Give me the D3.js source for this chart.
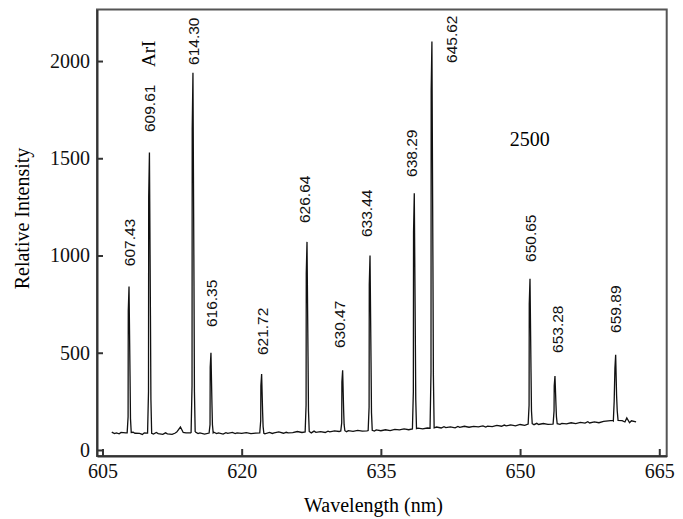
<!DOCTYPE html>
<html>

<head>
  <meta charset='utf-8'>
  <script src="https://cdn.jsdelivr.net/npm/d3@7/dist/d3.min.js"></script>
  <style>
    body {
      margin: 0;
      background-color: #fff;
    }

    .axis path,
    .axis line {
      stroke: #333;
      stroke-width: 2px;
    }
  </style>
</head>

<body>
  <div id='chart'></div>
  <script>
    // axis ticks
    var xTicks = [605, 620, 635, 650, 665];
    var yTicks = [0, 500, 1000, 1500, 2000];

    // background trace between the lines, [wavelength nm, intensity]
    var baseline = [
      [606.0, 92], [606.3, 84], [606.5, 88], [606.8, 83], [607.0, 90], [607.5, 88], [608.0, 84], [608.3, 91], [608.5, 86], [609.0, 85], [609.3, 80], [609.5, 88],
      [610.0, 87], [610.5, 82], [610.8, 90], [611.0, 84], [611.5, 80], [611.8, 88], [612.0, 83], [612.5, 80], [612.8, 86], [613.0, 92], [613.4, 118],
      [613.7, 90], [614.0, 88], [614.5, 88], [615.0, 93], [615.3, 84], [615.5, 88], [616.0, 82], [616.5, 86], [617.0, 91], [617.3, 84],
      [617.5, 88], [618.0, 82], [618.3, 89], [618.5, 85], [619.0, 90], [619.3, 84], [619.5, 88], [620.0, 85], [620.5, 89], [621.0, 84],
      [621.5, 87], [622.0, 89], [622.5, 83], [623.0, 90], [623.3, 85], [623.5, 88], [624.0, 93], [624.5, 86], [624.8, 91], [625.0, 88],
      [625.5, 89], [626.0, 95], [626.5, 90], [627.0, 96], [627.5, 88], [627.8, 97], [628.0, 91], [628.5, 94], [629.0, 90], [629.3, 97],
      [629.5, 93], [630.0, 98], [630.5, 95], [631.0, 101], [631.3, 94], [631.5, 99], [632.0, 96], [632.5, 101], [633.0, 97],
      [633.5, 98], [634.0, 102], [634.3, 97], [634.5, 103], [635.0, 99], [635.5, 104], [636.0, 100], [636.5, 106], [637.0, 103],
      [637.5, 108], [638.0, 104], [638.5, 107], [639.0, 112], [639.5, 109], [640.0, 113], [640.5, 111], [641.0, 118],
      [641.5, 113], [641.8, 120], [642.0, 115], [642.5, 119], [643.0, 114], [643.3, 121], [643.5, 116], [644.0, 122], [644.5, 117], [645.0, 121],
      [645.5, 119], [646.0, 124], [646.3, 118], [646.5, 123], [647.0, 120], [647.5, 126], [648.0, 122], [648.3, 128], [648.5, 124], [649.0, 129],
      [649.5, 124], [650.0, 131], [650.5, 127], [651.0, 133], [651.5, 130], [651.8, 137], [652.0, 131], [652.5, 136], [653.0, 132],
      [653.5, 133], [654.0, 138], [654.3, 132], [654.5, 137], [655.0, 134], [655.5, 140], [656.0, 136], [656.5, 142], [657.0, 138],
      [657.3, 145], [657.5, 139], [658.0, 144], [658.5, 140], [659.0, 147], [659.5, 150], [660.0, 152], [660.5, 148], [661.0, 151],
      [661.3, 144], [661.5, 165], [661.8, 140], [662.0, 150], [662.5, 145]
    ];

    // emission line profiles, [wavelength nm, intensity]
    var peaks = [
      [[607.66, 88], [607.76, 170], [607.78, 715], [607.86, 840], [607.97, 380], [608.02, 160], [608.1, 90]],
      [[609.86, 87], [609.96, 300], [609.98, 1300], [610.06, 1530], [610.17, 690], [610.22, 260], [610.3, 86]],
      [[614.55, 90], [614.65, 330], [614.67, 1650], [614.75, 1940], [614.86, 870], [614.91, 300], [614.99, 92]],
      [[616.49, 87], [616.59, 130], [616.61, 425], [616.69, 500], [616.8, 230], [616.85, 130], [616.93, 88]],
      [[621.95, 88], [622.05, 150], [622.07, 330], [622.15, 390], [622.26, 190], [622.31, 120], [622.39, 86]],
      [[626.84, 93], [626.94, 230], [626.96, 910], [627.04, 1070], [627.15, 480], [627.2, 200], [627.28, 95]],
      [[630.68, 98], [630.78, 140], [630.8, 350], [630.88, 410], [630.99, 200], [631.04, 130], [631.12, 99]],
      [[633.63, 100], [633.73, 220], [633.75, 850], [633.83, 1000], [633.94, 450], [633.99, 190], [634.07, 101]],
      [[638.4, 108], [638.5, 300], [638.52, 1120], [638.6, 1320], [638.71, 600], [638.76, 260], [638.84, 110]],
      [[640.3, 112], [640.4, 400], [640.42, 1850], [640.5, 2100], [640.61, 950], [640.66, 380], [640.74, 114]],
      [[650.87, 133], [650.97, 230], [650.99, 750], [651.07, 880], [651.18, 400], [651.23, 200], [651.31, 135]],
      [[653.56, 134], [653.66, 200], [653.68, 330], [653.76, 380], [653.87, 230], [653.92, 170], [654.0, 135]],
      [[660.05, 150], [660.14, 250], [660.22, 420], [660.3, 490], [660.4, 280], [660.47, 200], [660.56, 152]]
    ];

    // line labels: text, centre wavelength, intensity at the lower end of the text
    var labelText = ['607.43', '609.61', '614.30', '616.35', '621.72', '626.64', '630.47',
      '633.44', '638.29', '645.62', '650.65', '653.28', '659.89'];
    var labelNm = [607.96, 610.12, 614.86, 616.80, 622.29, 626.81, 630.58,
      633.49, 638.34, 642.65, 651.16, 654.07, 660.28];
    var labelAt = [945, 1635, 1980, 632, 488, 1167, 524, 1095, 1404, 1990, 967, 499, 602];

    var width = 683,
      height = 519;

    var serif = "'Liberation Serif', 'Times New Roman', Times, serif";
    var sans = "'Liberation Sans', Arial, Helvetica, sans-serif";

    var x = d3.scaleLinear().domain([604.41, 665.8]).range([97, 666.7]);
    var y = d3.scaleLinear().domain([-31, 2265]).range([456, 9.5]);

    var svg = d3.select('#chart')
      .append('svg')
      .attr('width', width)
      .attr('height', height);

    // frame
    svg.append('rect')
      .attr('x', x.range()[0])
      .attr('y', y.range()[1])
      .attr('width', x.range()[1] - x.range()[0])
      .attr('height', y.range()[0] - y.range()[1])
      .attr('fill', 'none')
      .attr('stroke', '#555')
      .attr('stroke-width', 2);

    // spectrum = background trace with line profiles spliced in
    var trace = baseline.filter(function(p) {
      return !peaks.some(function(pk) {
        return p[0] >= pk[0][0] && p[0] <= pk[pk.length - 1][0];
      });
    });
    peaks.forEach(function(pk) {
      trace = trace.concat(pk);
    });
    trace.sort(function(a, b) {
      return a[0] - b[0];
    });

    var line = d3.line()
      .x(function(d) { return x(d[0]); })
      .y(function(d) { return y(d[1]); });

    svg.append('path')
      .datum(trace)
      .attr('d', line)
      .attr('fill', 'none')
      .attr('stroke', '#111')
      .attr('stroke-width', 1.3);

    // axes
    svg.append('g')
      .attr('class', 'axis')
      .attr('transform', 'translate(0,' + y.range()[0] + ')')
      .call(d3.axisBottom(x).tickValues(xTicks).tickFormat(d3.format('d'))
        .tickSize(-7).tickSizeOuter(0).tickPadding(8));

    svg.append('g')
      .attr('class', 'axis')
      .attr('transform', 'translate(' + x.range()[0] + ',0)')
      .call(d3.axisLeft(y).tickValues(yTicks).tickFormat(d3.format('d'))
        .tickSize(-6).tickSizeOuter(0).tickPadding(7));

    svg.selectAll('.axis text')
      .style('font-family', serif)
      .style('font-size', '20px')
      .style('fill', '#111');

    // titles
    svg.append('text')
      .attr('x', 373.5)
      .attr('y', 511.5)
      .attr('text-anchor', 'middle')
      .style('font-family', serif)
      .style('font-size', '20px')
      .text('Wavelength (nm)');

    svg.append('text')
      .attr('transform', 'translate(29,218.5) rotate(-90)')
      .attr('text-anchor', 'middle')
      .style('font-family', serif)
      .style('font-size', '20px')
      .text('Relative Intensity');

    // peak labels
    svg.append('g')
      .selectAll('text')
      .data(labelText)
      .enter()
      .append('text')
      .attr('transform', function(d, i) {
        return 'translate(' + x(labelNm[i]) + ',' + y(labelAt[i]) + ') rotate(-90)';
      })
      .attr('dy', '0.35em')
      .style('font-family', sans)
      .style('font-size', '15.5px')
      .style('fill', '#111')
      .text(function(d) { return d; });

    svg.append('text')
      .attr('transform', 'translate(' + x(609.96) + ',' + y(1969) + ') rotate(-90)')
      .attr('dy', '0.35em')
      .style('font-family', serif)
      .style('font-size', '19px')
      .text('ArI');

    svg.append('text')
      .attr('x', x(651.05))
      .attr('y', y(1563))
      .attr('text-anchor', 'middle')
      .style('font-family', serif)
      .style('font-size', '20px')
      .text('2500');
  </script>
</body>

</html>
